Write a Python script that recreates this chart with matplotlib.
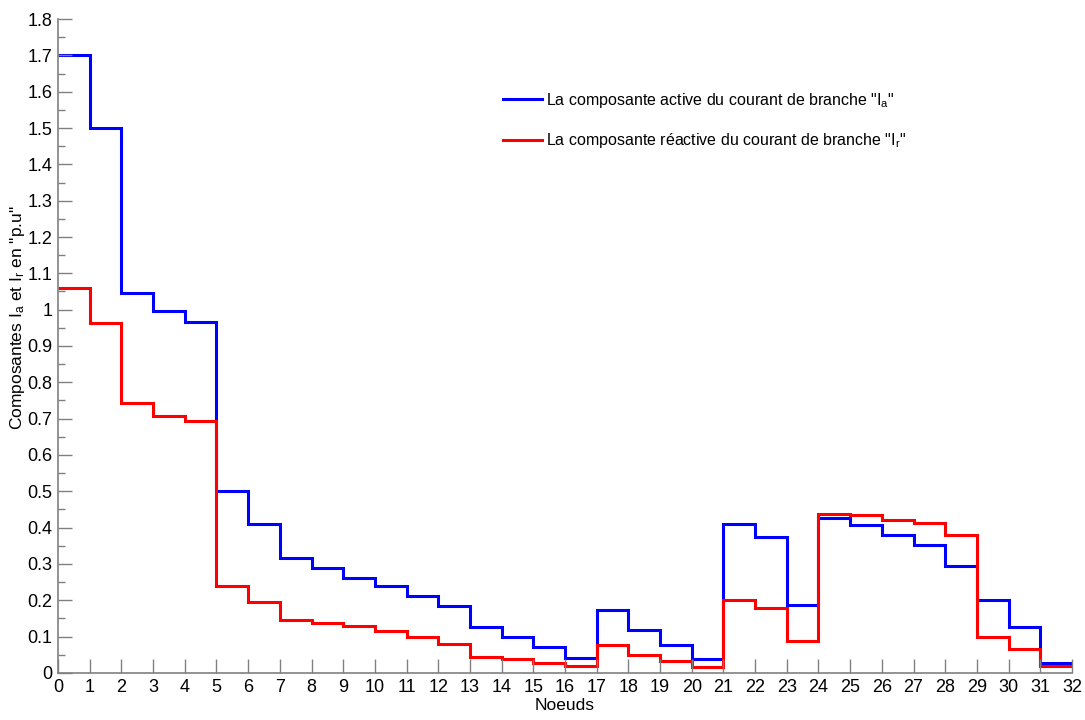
import matplotlib
matplotlib.use("Agg")
import matplotlib.pyplot as plt
from matplotlib import font_manager
from matplotlib.ticker import MultipleLocator, FuncFormatter

# Noeuds 0..32, une valeur par branche (marche entre le noeud i et i+1)
noeuds = list(range(33))

courant_actif = [
    1.700, 1.500, 1.047, 0.995, 0.967, 0.501, 0.409, 0.317, 0.289, 0.261,
    0.240, 0.213, 0.183, 0.127, 0.099, 0.071, 0.042, 0.172, 0.118, 0.077,
    0.039, 0.411, 0.375, 0.187, 0.426, 0.408, 0.381, 0.351, 0.295, 0.200,
    0.127, 0.027,
]

courant_reactif = [
    1.060, 0.963, 0.744, 0.707, 0.694, 0.239, 0.194, 0.146, 0.137, 0.129,
    0.116, 0.098, 0.081, 0.043, 0.038, 0.027, 0.019, 0.077, 0.050, 0.034,
    0.017, 0.201, 0.178, 0.089, 0.438, 0.434, 0.422, 0.413, 0.380, 0.098,
    0.065, 0.019,
]

noms = [f.name for f in font_manager.fontManager.ttflist]
police = "Liberation Sans Narrow" if "Liberation Sans Narrow" in noms else "Liberation Sans"

plt.rcParams["font.family"] = [police, "DejaVu Sans"]
plt.rcParams["mathtext.fontset"] = "custom"
plt.rcParams["mathtext.rm"] = police
plt.rcParams["mathtext.it"] = police

fig = plt.figure(figsize=(10.85, 7.2), dpi=100)
ax = fig.add_axes([0.0535, 0.0653, 0.9345, 0.9083])

ax.stairs(courant_actif, noeuds, baseline=None, color="#0000ff", linewidth=2.2,
          label='La composante active du courant de branche "I$_\\mathregular{a}$"')
ax.stairs(courant_reactif, noeuds, baseline=None, color="#ff0000", linewidth=2.2,
          label='La composante réactive du courant de branche "I$_\\mathregular{r}$"')

ax.set_xlim(0, 32)
ax.set_ylim(0, 1.8)
ax.xaxis.set_major_locator(MultipleLocator(1))
ax.yaxis.set_major_locator(MultipleLocator(0.1))
ax.yaxis.set_minor_locator(MultipleLocator(0.05))
ax.yaxis.set_major_formatter(FuncFormatter(lambda v, p: f"{v:g}"))

for cote in ("top", "right"):
    ax.spines[cote].set_visible(False)
for cote in ("left", "bottom"):
    ax.spines[cote].set_color("#808080")
    ax.spines[cote].set_linewidth(1.2)

ax.tick_params(axis="x", which="major", direction="in", length=10, width=1,
               color="#808080", labelsize=13, pad=4)
ax.tick_params(axis="y", which="major", direction="in", length=10, width=1,
               color="#808080", labelsize=13, pad=4)
ax.tick_params(axis="y", which="minor", direction="in", length=5, width=1,
               color="#808080")

ax.set_xlabel("Noeuds", fontsize=12.5, labelpad=2)
ax.set_ylabel('Composantes I$_\\mathregular{a}$ et I$_\\mathregular{r}$ en "p.u"',
              fontsize=12.5)
ax.yaxis.set_label_coords(-0.031, 0.543)

ax.legend(loc="upper left", bbox_to_anchor=(0.425, 0.912), frameon=False,
          fontsize=11.5, handlelength=2.4, handletextpad=0.3, labelspacing=1.35)

fig.savefig("out.png", dpi=100)
